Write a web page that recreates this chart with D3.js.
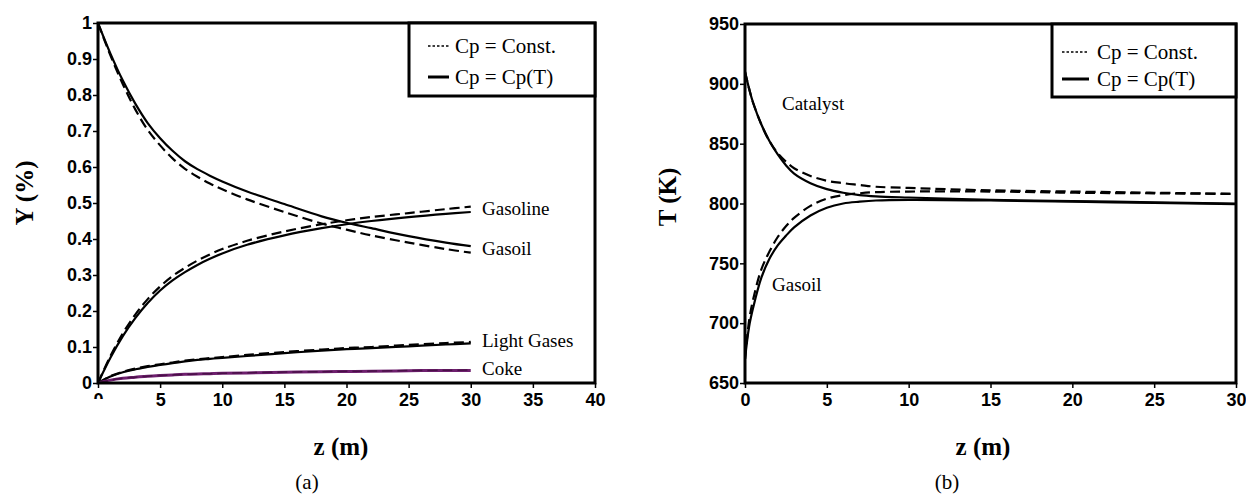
<!DOCTYPE html>
<html>
<head>
<meta charset="utf-8">
<script src="https://cdn.jsdelivr.net/npm/d3@7"></script>
<style>
  body { margin: 0; background: #fff; }
  svg { display: block; }
  .serif { font-family: "Liberation Serif", "Times New Roman", serif; fill: #000; }
</style>
</head>
<body>
<div id="chart"></div>
<script>
// ---- data, panel (a): yields vs reactor length ----
const zA = [0, 1, 2, 3, 4, 5, 6, 7, 8, 9, 10, 12, 15, 18, 20, 22, 25, 28, 30];
const gasoilT   = [1, 0.915, 0.84, 0.776, 0.722, 0.68, 0.645, 0.616, 0.594, 0.576, 0.56, 0.532, 0.497, 0.463, 0.445, 0.43, 0.408, 0.39, 0.38];
const gasoilC   = [1, 0.91, 0.83, 0.76, 0.703, 0.66, 0.624, 0.595, 0.573, 0.554, 0.538, 0.51, 0.475, 0.443, 0.426, 0.41, 0.39, 0.372, 0.362];
const gasolineT = [0, 0.07, 0.13, 0.18, 0.222, 0.257, 0.285, 0.308, 0.328, 0.345, 0.36, 0.384, 0.41, 0.43, 0.441, 0.45, 0.461, 0.47, 0.475];
const gasolineC = [0, 0.075, 0.138, 0.19, 0.233, 0.268, 0.297, 0.32, 0.34, 0.357, 0.372, 0.395, 0.421, 0.441, 0.452, 0.461, 0.472, 0.483, 0.49];
const lightGasT = [0, 0.018, 0.03, 0.038, 0.045, 0.05, 0.055, 0.06, 0.064, 0.067, 0.07, 0.075, 0.083, 0.09, 0.094, 0.097, 0.102, 0.107, 0.11];
const lightGasC = [0, 0.019, 0.031, 0.04, 0.047, 0.052, 0.057, 0.062, 0.066, 0.069, 0.072, 0.078, 0.086, 0.093, 0.097, 0.1, 0.106, 0.111, 0.114];
const cokeT     = [0, 0.008, 0.013, 0.016, 0.019, 0.021, 0.0225, 0.024, 0.025, 0.026, 0.027, 0.028, 0.03, 0.031, 0.032, 0.0325, 0.034, 0.035, 0.035];
const cokeC     = [0, 0.008, 0.013, 0.016, 0.019, 0.021, 0.0225, 0.024, 0.025, 0.026, 0.027, 0.0285, 0.0305, 0.0315, 0.0325, 0.033, 0.0345, 0.0355, 0.036];

// ---- data, panel (b): temperatures vs reactor length ----
const zB = [0, 0.25, 0.5, 1, 1.5, 2, 2.5, 3, 4, 5, 6, 7, 8, 10, 15, 20, 25, 30];
const catalystT   = [910, 896, 884, 866, 852, 841, 832, 825, 817, 812, 809, 807, 806, 805, 803, 802, 801, 800];
const catalystC   = [910, 896, 884, 866, 852, 842, 835, 829.5, 823, 819, 817, 815.5, 814, 813, 811, 810, 809, 808];
const gasoilTempT = [670, 697, 713, 738, 754, 765, 773, 780, 790, 796.5, 800, 801.5, 802.5, 803, 802.5, 801.5, 800.5, 799.5];
const gasoilTempC = [670, 702, 720, 745, 760, 772, 781, 788, 798, 804, 807, 808.5, 809.5, 810, 810, 809, 808.5, 808];

const ticksAx = [0, 5, 10, 15, 20, 25, 30, 35, 40];
const ticksAy = [0, 0.1, 0.2, 0.3, 0.4, 0.5, 0.6, 0.7, 0.8, 0.9, 1];
const ticksBx = [0, 5, 10, 15, 20, 25, 30];
const ticksBy = [650, 700, 750, 800, 850, 900, 950];
const legendLabels = ["Cp = Const.", "Cp = Cp(T)"];

const W = 1246, H = 496;
const svg = d3.select("#chart").append("svg").attr("width", W).attr("height", H);

function styleTicks(s) {
    s.select(".domain").remove();
    s.selectAll("line").attr("stroke-width", 1.5);
    s.selectAll("text")
        .style("font-family", '"Liberation Sans", Arial, sans-serif')
        .style("font-weight", "bold")
        .style("font-size", "18px")
        .style("fill", "#000");
}

function panel(opt) {
    const x = d3.scaleLinear().domain(opt.xDomain).range(opt.xRange);
    const y = d3.scaleLinear().domain(opt.yDomain).range(opt.yRange);
    const g = svg.append("g");

    const clipId = "clip-" + opt.key;
    svg.append("clipPath").attr("id", clipId)
        .append("rect")
        .attr("x", opt.xRange[0]).attr("y", opt.yRange[1])
        .attr("width", opt.xRange[1] - opt.xRange[0])
        .attr("height", opt.yRange[0] - opt.yRange[1]);

    // axes
    g.append("g")
        .attr("transform", `translate(${opt.xRange[0]},0)`)
        .call(d3.axisLeft(y).tickValues(opt.yTicks).tickSize(5).tickPadding(1)
            .tickFormat(opt.yFormat))
        .call(styleTicks);

    const xAxis = g.append("g")
        .attr("transform", `translate(0,${opt.yRange[0]})`)
        .call(d3.axisBottom(x).tickValues(opt.xTicks).tickSize(5).tickPadding(5)
            .tickFormat(d3.format("d")))
        .call(styleTicks);

    if (opt.cutZero) {
        // the first x label is half hidden in the original
        svg.append("clipPath").attr("id", "zcut")
            .append("rect").attr("x", -20).attr("y", 0).attr("width", 40).attr("height", 16);
        xAxis.selectAll(".tick").filter(d => d === 0).select("text")
            .attr("clip-path", "url(#zcut)");
    }

    const line = d3.line().x(d => x(d[0])).y(d => y(d[1])).curve(d3.curveCatmullRom.alpha(0.5));
    const plot = g.append("g").attr("clip-path", `url(#${clipId})`);

    opt.series.forEach(s => {
        const pts = opt.z.map((z, i) => [z, s.values[i]]);
        plot.append("path")
            .datum(pts)
            .attr("d", line)
            .attr("fill", "none")
            .attr("stroke", s.color || "#000")
            .attr("stroke-width", s.width || 2.2)
            .attr("stroke-dasharray", s.dashed ? "10,5" : null);
    });

    // frame
    g.append("rect")
        .attr("x", opt.xRange[0]).attr("y", opt.yRange[1])
        .attr("width", opt.xRange[1] - opt.xRange[0])
        .attr("height", opt.yRange[0] - opt.yRange[1])
        .attr("fill", "none").attr("stroke", "#000").attr("stroke-width", 3);

    // curve labels
    opt.labels.forEach(l => {
        g.append("text").attr("class", "serif")
            .attr("x", l.x).attr("y", l.y)
            .attr("font-size", 19)
            .text(l.text);
    });

    // legend
    const lg = g.append("g");
    lg.append("rect")
        .attr("x", opt.legend.x0).attr("y", opt.yRange[1])
        .attr("width", opt.xRange[1] - opt.legend.x0)
        .attr("height", opt.legend.h)
        .attr("fill", "#fff").attr("stroke", "#000").attr("stroke-width", 3);
    legendLabels.forEach((t, i) => {
        const yy = opt.legend.rows[i];
        lg.append("line")
            .attr("x1", opt.legend.s0).attr("x2", opt.legend.s1)
            .attr("y1", yy - 7).attr("y2", yy - 7)
            .attr("stroke", "#000")
            .attr("stroke-width", i === 0 ? 1.5 : 3)
            .attr("stroke-dasharray", i === 0 ? "2.5,2" : null);
        lg.append("text").attr("class", "serif")
            .attr("x", opt.legend.tx).attr("y", yy)
            .attr("font-size", 21)
            .text(t);
    });

    // axis titles
    g.append("text").attr("class", "serif")
        .attr("transform", `translate(${opt.yTitle.x},${opt.yTitle.y}) rotate(-90)`)
        .attr("text-anchor", "middle")
        .attr("font-size", 25).attr("font-weight", "bold")
        .text(opt.yTitle.text);
    g.append("text").attr("class", "serif")
        .attr("x", opt.xTitleX).attr("y", 455)
        .attr("text-anchor", "middle")
        .attr("font-size", 25).attr("font-weight", "bold")
        .text("z (m)");
    g.append("text").attr("class", "serif")
        .attr("x", opt.capX).attr("y", 489)
        .attr("text-anchor", "middle")
        .attr("font-size", 21)
        .text(opt.caption);
}

panel({
    key: "a",
    xDomain: [0, 40], xRange: [98, 595],
    yDomain: [0, 1], yRange: [383, 23],
    xTicks: ticksAx, yTicks: ticksAy,
    yFormat: d => d === 0 || d === 1 ? d3.format("d")(d) : d3.format(".1f")(d),
    cutZero: true,
    z: zA,
    series: [
        { values: gasoilC, dashed: true },
        { values: gasoilT },
        { values: gasolineC, dashed: true },
        { values: gasolineT },
        { values: lightGasC, dashed: true },
        { values: lightGasT },
        { values: cokeT, color: "#6e1f6e", width: 3 },
        { values: cokeC, color: "#4a1048", dashed: true, width: 1.5 }
    ],
    labels: [
        { text: "Gasoline", x: 482, y: 215 },
        { text: "Gasoil", x: 482, y: 255 },
        { text: "Light Gases", x: 482, y: 347 },
        { text: "Coke", x: 482, y: 375 }
    ],
    legend: { x0: 409, h: 73, s0: 428, s1: 449, tx: 455, rows: [53, 84] },
    yTitle: { text: "Y (%)", x: 33, y: 193 },
    xTitleX: 341, capX: 307, caption: "(a)"
});

panel({
    key: "b",
    xDomain: [0, 30], xRange: [745, 1236],
    yDomain: [650, 950], yRange: [383, 24],
    xTicks: ticksBx, yTicks: ticksBy,
    yFormat: d3.format("d"),
    cutZero: false,
    z: zB,
    series: [
        { values: catalystC, dashed: true },
        { values: catalystT },
        { values: gasoilTempC, dashed: true },
        { values: gasoilTempT }
    ],
    labels: [
        { text: "Catalyst", x: 782, y: 110 },
        { text: "Gasoil", x: 772, y: 291 }
    ],
    legend: { x0: 1052, h: 73, s0: 1062, s1: 1089, tx: 1097, rows: [59, 86] },
    yTitle: { text: "T (K)", x: 676, y: 197 },
    xTitleX: 983, capX: 947, caption: "(b)"
});
</script>
</body>
</html>
